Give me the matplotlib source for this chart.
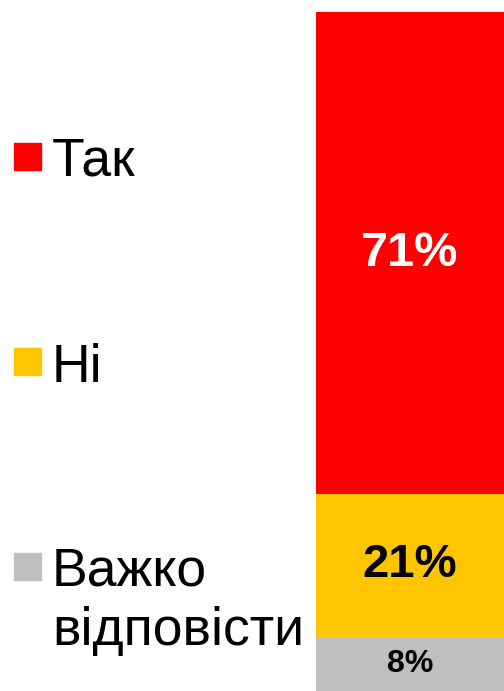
import matplotlib
matplotlib.use("Agg")
import matplotlib.pyplot as plt
from matplotlib.patches import Rectangle

categories = ["Так", "Ні", "Важко\nвідповісти"]
values = [71, 21, 8]
value_labels = ["71%", "21%", "8%"]
colors = ["#FF0000", "#FFC600", "#BFBFBF"]
label_colors = ["white", "black", "black"]
label_sizes = [35, 34, 23]

W, H = 504, 691
fig = plt.figure(figsize=(W / 100, H / 100), dpi=100)
plt.rcParams['font.family'] = ['Liberation Sans', 'DejaVu Sans']

ax = fig.add_axes([316 / W, 0, 1 - 316 / W, 1 - 12 / H])
# stack from top: first category on top
bottoms = []
acc = 0
for v in values[::-1]:
    bottoms.append(acc)
    acc += v
bottoms = bottoms[::-1]
for v, b, c, lab, lc, ls in zip(values, bottoms, colors, value_labels, label_colors, label_sizes):
    ax.bar(0, v, bottom=b, width=1.0, color=c, edgecolor='none')
    ax.text(0, b + v / 2, lab, ha='center', va='center', color=lc,
            fontsize=ls, fontweight='bold')
ax.set_xlim(-0.5, 0.5)
ax.set_ylim(0, acc)
ax.axis('off')

# legend (manual); text positioned by the top of the first line
sq_y = [143, 348, 553]
top_y = [137, 343, 547]
for cat, c, sy, ty in zip(categories, colors, sq_y, top_y):
    fig.patches.append(Rectangle((14 / W, 1 - (sy + 27) / H), 27 / W, 27 / H,
                                 transform=fig.transFigure, color=c, figure=fig))
    fig.text(52 / W, 1 - ty / H, cat, ha='left', va='top', fontsize=38.5,
             color='black', linespacing=1.22)

fig.savefig("out.png", dpi=100)
